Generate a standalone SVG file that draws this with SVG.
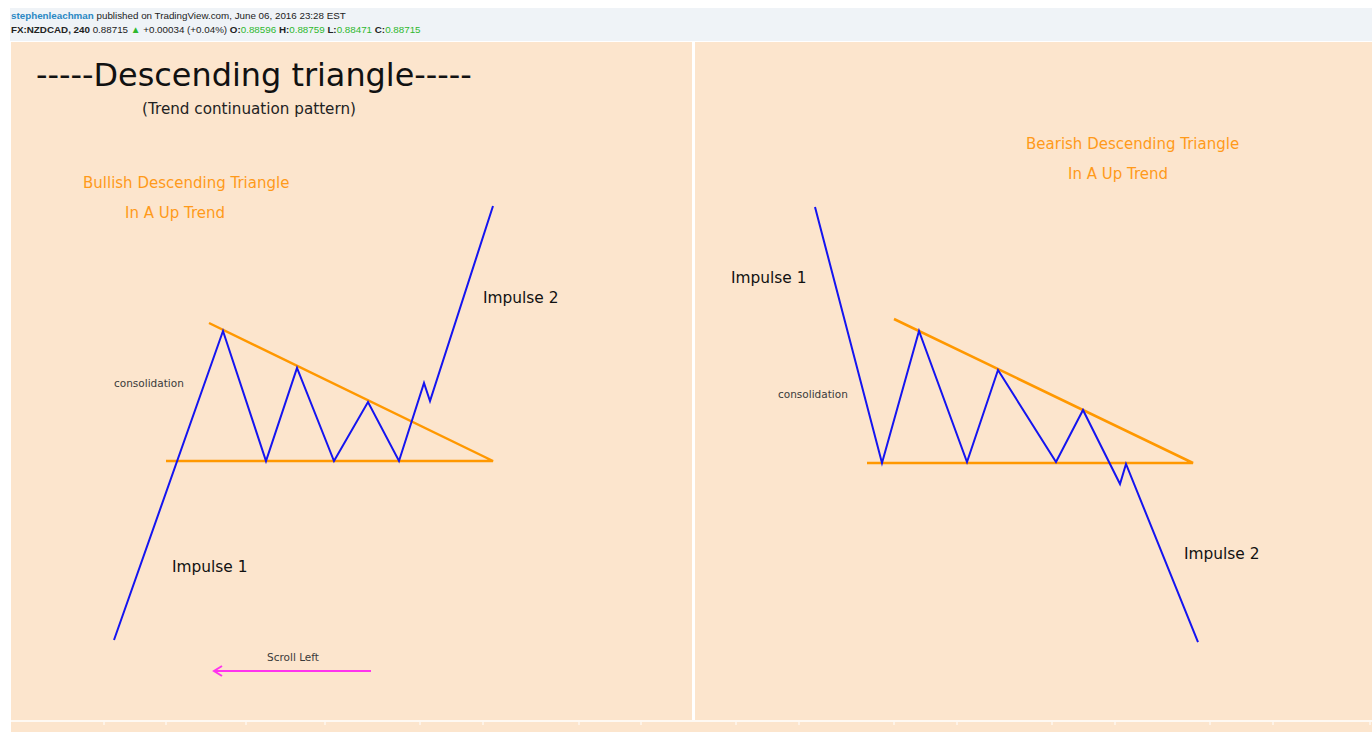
<svg xmlns="http://www.w3.org/2000/svg" width="1372" height="732" viewBox="0 0 1372 732">
<defs>
<style>
.t{font-family:"DejaVu Sans",Verdana,sans-serif}
.blue{fill:none;stroke:#1414f0;stroke-width:2;stroke-linejoin:miter}
.org{fill:none;stroke:#ff9800;stroke-width:2.5}
.lbl{font-size:15.4px;fill:#111}
.small{font-size:10.5px;fill:#3a3a3a}
.ot{font-size:15px;fill:#ff9a1a}
.hd{font-family:"Liberation Sans",Arial,sans-serif;font-size:9.8px;fill:#222}
.g{fill:#2eb82e}
.b{font-weight:bold}
.tick{stroke:#ffffff;stroke-width:1}
</style>
<marker id="ah" markerWidth="12" markerHeight="12" refX="9" refY="6" orient="auto" markerUnits="userSpaceOnUse">
<path d="M1,1 L9,6 L1,11" fill="none" stroke="#ff33ee" stroke-width="2"/>
</marker>
</defs>
<rect x="0" y="0" width="1372" height="732" fill="#ffffff"/>
<g id="header">
<rect x="10" y="8" width="1362" height="33" fill="#eff3f7"/>
<text class="hd" x="11" y="19"><tspan class="b" fill="#2a88c4">stephenleachman</tspan> published on TradingView.com, June 06, 2016 23:28 EST</text>
<text class="hd" x="11" y="33"><tspan class="b">FX:NZDCAD, 240</tspan> 0.88715 <tspan fill="#2eb82e">▲</tspan> +0.00034 (+0.04%) <tspan class="b">O:</tspan><tspan class="g">0.88596</tspan> <tspan class="b">H:</tspan><tspan class="g">0.88759</tspan> <tspan class="b">L:</tspan><tspan class="g">0.88471</tspan> <tspan class="b">C:</tspan><tspan class="g">0.88715</tspan></text>
</g>
<g id="chart">
<rect x="11" y="42" width="1361" height="690" fill="#fce5cd"/>
<rect x="692" y="42" width="3" height="678" fill="#ffffff"/>
<line x1="11" y1="721" x2="1372" y2="721" stroke="#ffffff" stroke-width="1.5"/>
<g class="tick">
<line x1="104" y1="722" x2="104" y2="725"/><line x1="166" y1="722" x2="166" y2="725"/><line x1="246" y1="722" x2="246" y2="725"/><line x1="325" y1="722" x2="325" y2="725"/><line x1="420" y1="722" x2="420" y2="725"/><line x1="483" y1="722" x2="483" y2="725"/><line x1="579" y1="722" x2="579" y2="725"/><line x1="641" y1="722" x2="641" y2="725"/><line x1="736" y1="722" x2="736" y2="725"/><line x1="799" y1="722" x2="799" y2="725"/><line x1="894" y1="722" x2="894" y2="725"/><line x1="957" y1="722" x2="957" y2="725"/><line x1="1052" y1="722" x2="1052" y2="725"/><line x1="1115" y1="722" x2="1115" y2="725"/><line x1="1210" y1="722" x2="1210" y2="725"/><line x1="1273" y1="722" x2="1273" y2="725"/><line x1="1370" y1="722" x2="1370" y2="725"/>
</g>
</g>
<g id="title">
<text class="t" x="36" y="86" font-size="31.9" fill="#111">-----Descending triangle-----</text>
<text class="t" x="249" y="114" font-size="15.2" fill="#222" text-anchor="middle">(Trend continuation pattern)</text>
</g>
<g id="connectors">
<polyline class="org" points="166,461 493,461 209,323"/>
<polyline class="blue" points="114,640 223,331 266,461 297,368 334,461 368,402 399,461 424,383 430,401 493,206"/>
<polyline class="org" points="867,463 1193,463 894,319"/>
<polyline class="blue" points="815,207 882,463 919,331 967,462 998,370 1056,462 1083,410 1120,484 1126,464 1198,642"/>
<line x1="371" y1="671" x2="214" y2="671" stroke="#ff33ee" stroke-width="2" marker-end="url(#ah)"/>
</g>
<g id="left-labels">
<text class="t ot" x="83" y="188">Bullish Descending Triangle</text>
<text class="t ot" x="125" y="218">In A Up Trend</text>
<text class="t lbl" x="483" y="303">Impulse 2</text>
<text class="t lbl" x="172" y="572">Impulse 1</text>
<text class="t small" x="114" y="387">consolidation</text>
<text class="t small" x="293" y="661" text-anchor="middle">Scroll Left</text>
</g>
<g id="right-labels">
<text class="t ot" x="1026" y="149">Bearish Descending Triangle</text>
<text class="t ot" x="1068" y="179">In A Up Trend</text>
<text class="t lbl" x="731" y="283">Impulse 1</text>
<text class="t lbl" x="1184" y="559">Impulse 2</text>
<text class="t small" x="778" y="398">consolidation</text>
</g>
</svg>
